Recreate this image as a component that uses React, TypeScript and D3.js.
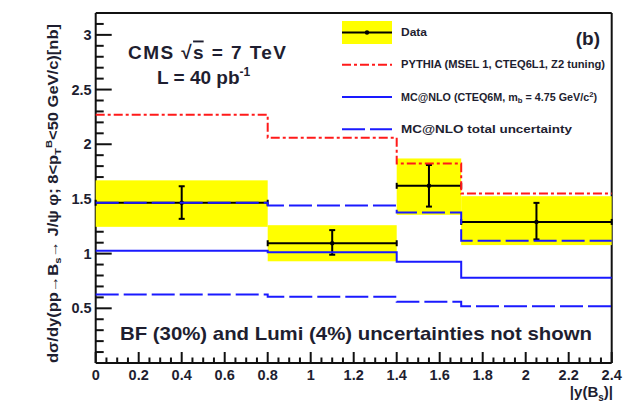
import React from "react";
import * as d3 from "d3";

// Bin edges in |y(B_s)|
const binEdges = [0, 0.8, 1.4, 1.7, 2.4];

// Measured cross section (points, stat errors, total-uncertainty band)
const dataX = [0.4, 1.1, 1.55, 2.05];
const dataY = [1.465, 1.095, 1.62, 1.29];
const statLo = [1.318, 0.99, 1.43, 1.13];
const statHi = [1.616, 1.215, 1.81, 1.464];
const bandLo = [1.245, 0.93, 1.355, 1.078];
const bandHi = [1.67, 1.26, 1.87, 1.525];

// Theory predictions per bin
const pythia = [2.27, 2.06, 1.823, 1.55];
const mcnlo = [1.026, 1.012, 0.925, 0.78];
const mcnloUp = [1.465, 1.44, 1.376, 1.117];
const mcnloLo = [0.627, 0.605, 0.56, 0.52];

const xMajorTicks = [0, 0.2, 0.4, 0.6, 0.8, 1, 1.2, 1.4, 1.6, 1.8, 2, 2.2, 2.4];
const yMajorTicks = [0.5, 1, 1.5, 2, 2.5, 3];

const W = 628;
const H = 414;
const FONT = "'Liberation Sans', Arial, Helvetica, sans-serif";
const TXT = "#1e1e30";

export default function App() {
  const x = d3.scaleLinear().domain([0, 2.4]).range([95.7, 611.7]);
  const y = d3.scaleLinear().domain([0, 3.2]).range([363, 13]);
  const [x0, x1] = x.range();
  const [y0, y1] = y.range();

  const stepPath = (vals: number[]) => {
    const pts: [number, number][] = vals.map((v, i) => [binEdges[i], v]);
    pts.push([binEdges[binEdges.length - 1], vals[vals.length - 1]]);
    return d3
      .line<[number, number]>()
      .x((d) => x(d[0]))
      .y((d) => y(d[1]))
      .curve(d3.curveStepAfter)(pts) as string;
  };

  const xMinor = d3.range(0, 2.4001, 0.05).filter((v) => !xMajorTicks.some((m) => Math.abs(m - v) < 1e-6));
  const yMinor = d3.range(0.1, 3.2, 0.1).filter((v) => !yMajorTicks.some((m) => Math.abs(m - v) < 1e-6));

  const fmt = (v: number) => (Number.isInteger(v) ? String(v) : String(+v.toFixed(1)));

  return (
    <svg
      width={W}
      height={H}
      viewBox={`0 0 ${W} ${H}`}
      style={{ position: "absolute", left: 0, top: 0, background: "#fff" }}
    >
      {/* frame */}
      <g stroke="#111" strokeWidth={2} fill="none">
        <line x1={x0} y1={y1} x2={x1} y2={y1} />
        <line x1={x1} y1={y1} x2={x1} y2={y0} />
        <line x1={x0} y1={y1} x2={x0} y2={y0} />
        <line x1={x0} y1={y0} x2={x1} y2={y0} />
      </g>

      {/* axis ticks (inside the frame) */}
      <g stroke="#111" strokeWidth={2}>
        {yMajorTicks.map((v) => (
          <line key={"ym" + v} x1={x0} x2={x0 + 16} y1={y(v)} y2={y(v)} />
        ))}
        {yMinor.map((v) => (
          <line key={"yn" + v} x1={x0} x2={x0 + 8} y1={y(v)} y2={y(v)} />
        ))}
        {xMajorTicks.map((v) => (
          <line key={"xm" + v} x1={x(v)} x2={x(v)} y1={y0} y2={y0 - 11} />
        ))}
        {xMinor.map((v) => (
          <line key={"xn" + v} x1={x(v)} x2={x(v)} y1={y0} y2={y0 - 5.5} />
        ))}
      </g>

      {/* tick labels */}
      <g fontFamily={FONT} fontSize={14.5} fontWeight="bold" fill={TXT}>
        {yMajorTicks.map((v) => (
          <text key={"yl" + v} x={x0 - 4} y={y(v) + 5} textAnchor="end">
            {fmt(v)}
          </text>
        ))}
        {xMajorTicks.map((v) => (
          <text key={"xl" + v} x={x(v)} y={380} textAnchor="middle">
            {fmt(v)}
          </text>
        ))}
      </g>

      {/* axis titles */}
      <text x={613} y={397} textAnchor="end" fontFamily={FONT} fontSize={15} fontWeight="bold" fill={TXT}>
        |y(B<tspan fontSize={10} dy={4}>s</tspan>
        <tspan dy={-4}>)|</tspan>
      </text>
      <text
        transform="translate(58,24) rotate(-90)"
        textAnchor="end"
        fontFamily={FONT}
        fontSize={14}
        fontWeight="bold"
        fill={TXT}
        textLength={339}
        lengthAdjust="spacingAndGlyphs"
      >
        dσ/dy(pp→B<tspan fontSize={9.5} dy={3}>s</tspan>
        <tspan dy={-3}>→ J/ψ φ; 8&lt;p</tspan>
        <tspan fontSize={9.5} dy={3}>T</tspan>
        <tspan fontSize={9.5} dy={-9}>B</tspan>
        <tspan dy={6}>&lt;50 GeV/c)[nb]</tspan>
      </text>

      {/* data total-uncertainty band */}
      <g fill="#ffff00">
        {bandLo.map((lo, i) => (
          <rect
            key={"b" + i}
            x={x(binEdges[i])}
            width={x(binEdges[i + 1]) - x(binEdges[i])}
            y={y(bandHi[i])}
            height={y(lo) - y(bandHi[i])}
          />
        ))}
      </g>

      {/* data points with stat errors */}
      <g stroke="#000" strokeWidth={2}>
        {dataY.map((v, i) => {
          const xl = x(binEdges[i]);
          const xr = x(binEdges[i + 1]);
          const cx = x(dataX[i]);
          return (
            <g key={"d" + i}>
              <line x1={xl} x2={xr} y1={y(v)} y2={y(v)} />
              <line x1={xl} x2={xl} y1={y(v) - 3} y2={y(v) + 3} />
              <line x1={xr} x2={xr} y1={y(v) - 3} y2={y(v) + 3} />
              <line x1={cx} x2={cx} y1={y(statHi[i])} y2={y(statLo[i])} />
              <line x1={cx - 3} x2={cx + 3} y1={y(statHi[i])} y2={y(statHi[i])} />
              <line x1={cx - 3} x2={cx + 3} y1={y(statLo[i])} y2={y(statLo[i])} />
              <circle cx={cx} cy={y(v)} r={2.2} fill="#000" stroke="none" />
            </g>
          );
        })}
      </g>

      {/* theory curves */}
      <g fill="none" strokeWidth={2}>
        <path d={stepPath(pythia)} stroke="#ff1a1a" strokeDasharray="9,3,3,3" />
        <path d={stepPath(mcnlo)} stroke="#1a1aff" />
        <path d={stepPath(mcnloUp)} stroke="#1a1aff" strokeDasharray="23,5" />
        <path d={stepPath(mcnloLo)} stroke="#1a1aff" strokeDasharray="23,5" />
      </g>

      {/* legend */}
      <g>
        <rect x={342} y={21} width={50} height={23} fill="#ffff00" />
        <line x1={342} x2={392} y1={32.5} y2={32.5} stroke="#000" strokeWidth={2} />
        <circle cx={367} cy={32.5} r={2.2} fill="#000" />
        <line x1={342} x2={392} y1={64.8} y2={64.8} stroke="#ff1a1a" strokeWidth={2} strokeDasharray="9,3,3,3" />
        <line x1={342} x2={392} y1={97} y2={97} stroke="#1a1aff" strokeWidth={2} />
        <line x1={342} x2={392} y1={129.3} y2={129.3} stroke="#1a1aff" strokeWidth={2} strokeDasharray="23,5" />
        <g fontFamily={FONT} fontSize={10.5} fontWeight="bold" fill={TXT}>
          <text x={401} y={36} textLength={26} lengthAdjust="spacingAndGlyphs">Data</text>
          <text x={401} y={68.3} textLength={204} lengthAdjust="spacingAndGlyphs">
            PYTHIA (MSEL 1, CTEQ6L1, Z2 tuning)
          </text>
          <text x={401} y={100.5} textLength={196} lengthAdjust="spacingAndGlyphs">
            MC@NLO (CTEQ6M, m<tspan fontSize={7.5} dy={2.5}>b</tspan>
            <tspan dy={-2.5}> = 4.75 GeV/c</tspan>
            <tspan fontSize={7.5} dy={-4}>2</tspan>
            <tspan dy={4}>)</tspan>
          </text>
          <text x={401} y={132.8} textLength={171} lengthAdjust="spacingAndGlyphs">
            MC@NLO total uncertainty
          </text>
        </g>
      </g>

      {/* annotations */}
      <text x={600} y={45} textAnchor="end" fontFamily={FONT} fontSize={19} fontWeight="bold" fill={TXT}>
        (b)
      </text>
      <g fontFamily={FONT} fontSize={19} fontWeight="bold" fill={TXT}>
        <text x={128} y={58.5} textLength={158} lengthAdjust="spacing">
          CMS{"  "}
          <tspan>√</tspan>
          <tspan textDecoration="overline">s</tspan>
          <tspan> = 7 TeV</tspan>
        </text>
        <text x={157} y={83.5}>
          L = 40 pb<tspan fontSize={12} dy={-8}>-1</tspan>
        </text>
      </g>
      <text
        x={120}
        y={340}
        fontFamily={FONT}
        fontSize={18.5}
        fontWeight="bold"
        fill={TXT}
        textLength={472}
        lengthAdjust="spacingAndGlyphs"
      >
        BF (30%) and Lumi (4%) uncertainties not shown
      </text>
    </svg>
  );
}
